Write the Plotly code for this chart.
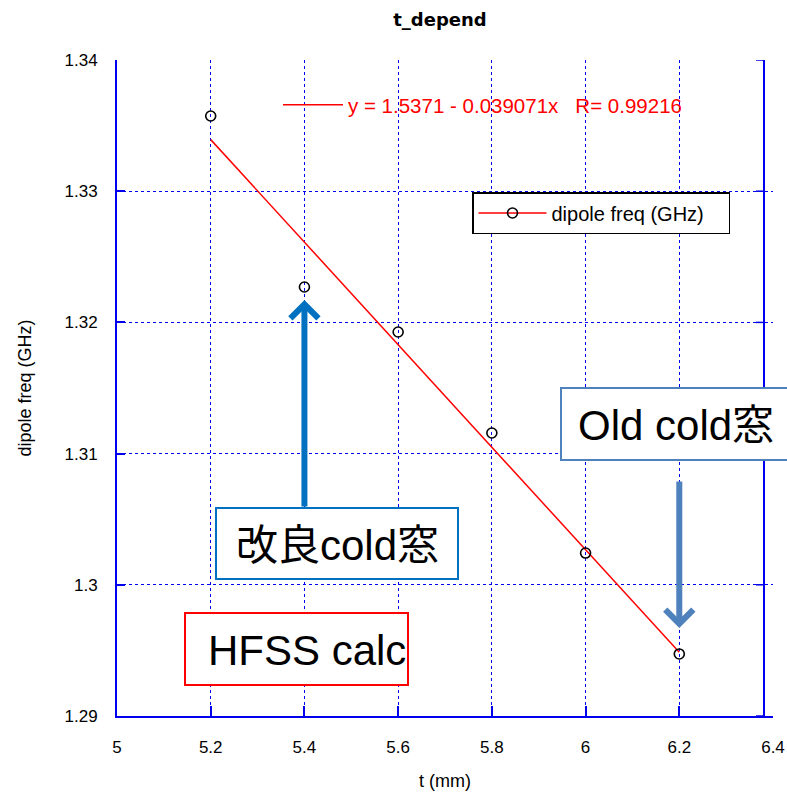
import numpy as np
import plotly.graph_objects as go

# measured dipole frequency vs. thickness
t_mm = [5.2, 5.4, 5.6, 5.8, 6.0, 6.2]
freq_ghz = [1.33573, 1.3227, 1.31927, 1.31157, 1.30242, 1.29473]

# linear fit coefficients as printed in the fit label
fit_intercept = 1.5371
fit_slope = -0.039071
fit_r = 0.99216

x_ticks = [5, 5.2, 5.4, 5.6, 5.8, 6, 6.2, 6.4]
y_ticks = [1.29, 1.3, 1.31, 1.32, 1.33, 1.34]

FONT = "Liberation Sans, Arial, Noto Sans CJK JP, sans-serif"
TITLE_FONT = "DejaVu Sans, Liberation Sans, sans-serif"
BLUE = "#0000ee"

fit_x = np.array([t_mm[0], t_mm[-1]])
fit_y = fit_intercept + fit_slope * fit_x
fit_label = f"y = {fit_intercept} - {-fit_slope}x   R= {fit_r}"

fig = go.Figure()

# fitted line (its legend entry carries the equation)
fig.add_trace(go.Scatter(
    x=fit_x, y=fit_y, mode="lines", name=fit_label,
    line=dict(color="#ff0000", width=1.5), legend="legend2",
))
# measured points
fig.add_trace(go.Scatter(
    x=t_mm, y=freq_ghz, mode="markers", showlegend=False,
    marker=dict(symbol="circle-open", size=10, color="black",
                line=dict(width=1.6, color="black")),
))
# legend entry for the data series (line + marker symbol)
fig.add_trace(go.Scatter(
    x=[None], y=[None], mode="lines+markers", name="dipole freq (GHz)",
    line=dict(color="#ff0000", width=1.5),
    marker=dict(symbol="circle-open", size=10, color="black",
                line=dict(width=1.6, color="black")),
    legend="legend",
))

L, R, T, B = 117, 773, 60, 716


def px_x(p):
    return (p - L) / (R - L)


def px_y(p):
    return (B - p) / (B - T)


shapes = []
# right frame line with inward tick marks
right_x = px_x(764)
shapes.append(dict(type="line", xref="paper", yref="paper",
                   x0=right_x, x1=right_x, y0=0, y1=1,
                   line=dict(color=BLUE, width=2)))
for yt in y_ticks:
    shapes.append(dict(type="line", xref="paper", yref="y",
                       x0=right_x - 8 / (R - L), x1=right_x, y0=yt, y1=yt,
                       line=dict(color=BLUE, width=1.5)))

# callout boxes
boxes = [
    ("Old cold窓", 561, 790, 388, 460, "#4f81bd", 676, 426),
    ("改良cold窓", 216, 458, 508, 579, "#0070c0", 337, 545),
    ("HFSS calc", 185, 408, 613, 685, "#ff0000", 307, 650),
]
annotations = []
for text, x0, x1, y0, y1, col, cx, cy in boxes:
    shapes.append(dict(type="rect", xref="paper", yref="paper",
                       x0=px_x(x0), x1=px_x(x1), y0=px_y(y1), y1=px_y(y0),
                       line=dict(color=col, width=2), fillcolor="white",
                       layer="above"))
    annotations.append(dict(text=text, xref="paper", yref="paper",
                            x=px_x(cx), y=px_y(cy), showarrow=False,
                            xanchor="center", yanchor="middle",
                            font=dict(family=FONT, size=42, color="black")))

# arrows from the callouts to the points
arrows = [
    (5.4, 1.30585, 1.32171, "#0070c0"),
    (6.2, 1.30799, 1.29671, "#4f81bd"),
]
for ax_, y_tail, y_tip, col in arrows:
    annotations.append(dict(text="", x=ax_, y=y_tip, ax=ax_, ay=y_tail,
                            xref="x", yref="y", axref="x", ayref="y",
                            showarrow=True, arrowhead=4, arrowsize=0.9,
                            arrowwidth=6, arrowcolor=col, standoff=0))

fig.update_layout(
    width=787, height=794, autosize=False,
    margin=dict(l=L, r=787 - R, t=T, b=794 - B, autoexpand=False),
    paper_bgcolor="white", plot_bgcolor="white",
    font=dict(family=FONT, size=17, color="black"),
    title=dict(text="<b>t_depend</b>", x=440 / 787, xref="container",
               xanchor="center", y=1 - 20 / 794, yanchor="middle",
               font=dict(family=TITLE_FONT, size=18, color="black")),
    xaxis=dict(range=[5, 6.4], tickvals=x_ticks, ticks="inside", ticklen=10,
               tickcolor=BLUE, tickwidth=1.5, showline=True, linecolor=BLUE,
               linewidth=2, showgrid=True, gridcolor=BLUE, griddash="dot",
               gridwidth=1, zeroline=False, ticklabelstandoff=15,
               automargin=False, tickfont=dict(size=17),
               title=dict(text="t (mm)", standoff=18, font=dict(size=18))),
    yaxis=dict(range=[1.29, 1.34], tickvals=y_ticks, ticks="inside", ticklen=8,
               tickcolor=BLUE, tickwidth=1.5, showline=True, linecolor=BLUE,
               linewidth=2, showgrid=True, gridcolor=BLUE, griddash="dot",
               gridwidth=1, zeroline=False, ticklabelstandoff=14,
               automargin=False, tickfont=dict(size=17),
               title=dict(text="dipole freq (GHz)", standoff=28,
                          font=dict(size=18))),
    legend=dict(x=px_x(472), y=px_y(192), xanchor="left", yanchor="top",
                orientation="h", bgcolor="white", bordercolor="black",
                borderwidth=1.5, itemwidth=68, entrywidth=172,
                font=dict(size=20, color="black")),
    legend2=dict(x=px_x(278), y=px_y(105), xanchor="left", yanchor="middle",
                 bgcolor="rgba(0,0,0,0)", borderwidth=0, itemwidth=60,
                 font=dict(size=20.5, color="#ff0000")),
    shapes=shapes,
    annotations=annotations,
)

fig.write_html("out.html")
